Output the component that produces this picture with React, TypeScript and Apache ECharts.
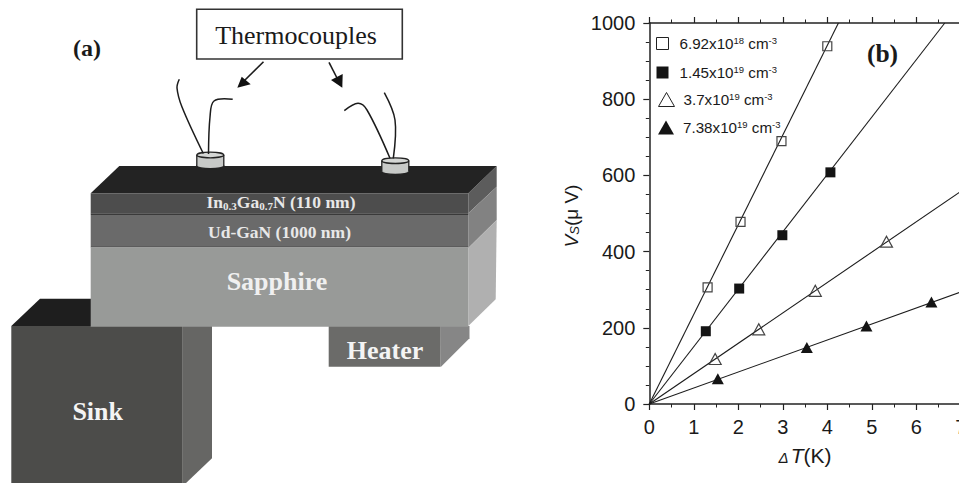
import React, { useEffect, useRef } from "react";
import * as echarts from "echarts";

type Pt = [number, number];

const openSquare: Pt[] = [[1.31, 306], [2.05, 478], [2.97, 690], [4.0, 939]];
const filledSquare: Pt[] = [[1.27, 191], [2.02, 303], [2.99, 443], [4.07, 608]];
const openTriangle: Pt[] = [[1.48, 118], [2.46, 196], [3.73, 297], [5.33, 426]];
const filledTriangle: Pt[] = [[1.54, 66], [3.54, 148], [4.88, 205], [6.34, 268]];

const fitOpenSquare: Pt[] = [[0, 0], [4.25, 1000]];
const fitFilledSquare: Pt[] = [[0, 0], [6.64, 1000]];
const fitOpenTriangle: Pt[] = [[0, 0], [7, 558]];
const fitFilledTriangle: Pt[] = [[0, 0], [7, 294]];

const seriesNames = ["6.92x10^18 cm^-3", "1.45x10^19 cm^-3", "3.7x10^19 cm^-3", "7.38x10^19 cm^-3"];
const legendRich: Record<string, string> = {
  [seriesNames[0]]: "{g|}{t|6.92x10}{u|18}{t| cm}{u|-3}",
  [seriesNames[1]]: "{g|}{t|1.45x10}{u|19}{t| cm}{u|-3}",
  [seriesNames[2]]: "{h|}{t|3.7x10}{u|19}{t| cm}{u|-3}",
  [seriesNames[3]]: "{h|}{t|7.38x10}{u|19}{t| cm}{u|-3}",
};

const INK = "#222";
const SERIF = "'Liberation Serif', serif";
const SANS = "'Liberation Sans', sans-serif";

const poly = (points: number[][], fill: string) => ({
  type: "polygon",
  shape: { points },
  style: { fill },
  silent: true,
});
const box = (x: number, y: number, width: number, height: number, fill: string) => ({
  type: "rect",
  shape: { x, y, width, height },
  style: { fill },
  silent: true,
});
const label = (text: string, x: number, y: number, fontSize: number, fill: string, weight = "bold") => ({
  type: "text",
  x,
  y,
  style: {
    text,
    fontSize,
    fontFamily: SERIF,
    fontWeight: weight,
    fill,
    align: "center",
    verticalAlign: "middle",
  },
  silent: true,
});
const wire = (points: number[][]) => ({
  type: "polyline",
  shape: { points, smooth: 0.35 },
  style: { stroke: "#1c1c1c", lineWidth: 1.5, fill: "none" },
  silent: true,
});
const arrow = (x1: number, y1: number, x2: number, y2: number, head: number[][]) => [
  {
    type: "line",
    shape: { x1, y1, x2, y2 },
    style: { stroke: "#1c1c1c", lineWidth: 1.6 },
    silent: true,
  },
  poly(head, "#111"),
];
const puck = (cx: number, cy: number) => [
  {
    type: "ellipse",
    shape: { cx, cy: cy + 11, rx: 13.5, ry: 2.6 },
    style: { fill: "#c8cac8", stroke: "#222", lineWidth: 1.3 },
    silent: true,
  },
  box(cx - 13.5, cy, 27, 11, "#c8cac8"),
  {
    type: "line",
    shape: { x1: cx - 13.5, y1: cy, x2: cx - 13.5, y2: cy + 11 },
    style: { stroke: "#222", lineWidth: 1.3 },
    silent: true,
  },
  {
    type: "line",
    shape: { x1: cx + 13.5, y1: cy, x2: cx + 13.5, y2: cy + 11 },
    style: { stroke: "#222", lineWidth: 1.3 },
    silent: true,
  },
  {
    type: "ellipse",
    shape: { cx, cy, rx: 13.5, ry: 2.8 },
    style: { fill: "#d4d6d4", stroke: "#222", lineWidth: 1.3 },
    silent: true,
  },
];

const diagram: any[] = [
  // sink
  poly([[11.3, 326], [40, 298.7], [91, 298.7], [91, 326]], "#1e1e1e"),
  poly([[182.7, 326], [212, 326], [212, 458.3], [185, 484], [182.7, 484]], "#666664"),
  box(11.3, 326, 171.4, 158, "#4c4c4a"),
  // heater
  poly([[440.7, 326], [469.5, 326], [469.5, 338.3], [441, 366.7]], "#868686"),
  box(328.7, 326, 112, 40.7, "#6b6b69"),
  // stack sides
  poly([[468.3, 193.3], [496.7, 166], [496.7, 186.7], [468.3, 213.3]], "#5c5c5c"),
  poly([[468.3, 213.3], [496.7, 186.7], [496.7, 220], [468.3, 248]], "#828282"),
  poly([[468.3, 248], [496.7, 220], [495.7, 299.3], [468.3, 326]], "#b0b0b0"),
  // stack top and fronts
  poly([[90.7, 193.3], [119.3, 166], [496.7, 166], [468.3, 193.3]], "#232323"),
  box(90.7, 193.3, 377.6, 20, "#4d4d4d"),
  box(90.7, 213.3, 377.6, 1.8, "#3a3a3a"),
  box(90.7, 215, 377.6, 31, "#6a6a6a"),
  box(90.7, 246, 377.6, 1.6, "#5c5c5c"),
  box(90.7, 247.3, 377.6, 79.4, "#989a98"),
  // thermocouples
  ...puck(210.3, 155),
  ...puck(395.3, 160.7),
  wire([[179.3, 79.3], [177, 88], [182, 107], [203.3, 153.5]]),
  wire([[208.5, 154], [210, 117], [214, 101], [232.7, 99.3]]),
  wire([[344.3, 110.7], [358, 103.3], [367, 110], [390, 158.3]]),
  wire([[384.3, 92.7], [395, 120], [393.3, 158.3]]),
  ...arrow(263.5, 61.7, 244, 81, [[237.3, 87.7], [241.7, 76.7], [250.7, 84.3]]),
  ...arrow(329, 62.3, 337, 78, [[342.3, 87.7], [331, 80], [342.7, 74]]),
  {
    type: "rect",
    shape: { x: 196.7, y: 9.3, width: 205.6, height: 49.7 },
    style: { fill: "#fff", stroke: "#333", lineWidth: 1.6 },
    silent: true,
  },
  label("Thermocouples", 296, 35, 26, "#1a1a1a", "normal"),
  label("(a)", 87, 47.5, 24, "#1a1a1a"),
  label("(b)", 882.5, 53, 25.5, "#1a1a1a"),
  {
    type: "text",
    x: 281,
    y: 202,
    style: {
      text: "{b|In}{s|0.3}{b|Ga}{s|0.7}{b|N (110 nm)}",
      fill: "#e8e8e8",
      align: "center",
      verticalAlign: "middle",
      rich: {
        b: { fontSize: 17.5, fontFamily: SERIF, fontWeight: "bold", fill: "#e8e8e8" },
        s: {
          fontSize: 11,
          fontFamily: SERIF,
          fontWeight: "bold",
          fill: "#e8e8e8",
          verticalAlign: "bottom",
          padding: [7, 0, 0, 0],
        },
      },
    },
    silent: true,
  },
  label("Ud-GaN (1000 nm)", 279.5, 232, 17.5, "#e8e8e8"),
  label("Sapphire", 277, 281.5, 26, "#f0f0f0"),
  label("Heater", 385, 350, 26, "#f4f4f4"),
  label("Sink", 97.7, 411.5, 26, "#f4f4f4"),
];

const axisLine = { show: true, onZero: false, lineStyle: { color: INK, width: 1.5 } };
const axisTick = { show: true, length: 6, lineStyle: { color: INK, width: 1.2 } };
const minorTick = { show: true, length: 3.5, lineStyle: { color: INK, width: 1 } };

const scatter = (name: string, data: Pt[], symbol: string, size: number | number[], filled: boolean) => ({
  name,
  type: "scatter",
  data,
  symbol,
  symbolSize: size,
  z: 5,
  itemStyle: filled
    ? { color: "#141414", borderColor: "#141414", borderWidth: 0, opacity: 1 }
    : { color: "rgba(255,255,255,0)", borderColor: "#444", borderWidth: 1.2, opacity: 1 },
});
const fit = (data: Pt[]) => ({
  type: "line",
  data,
  symbol: "none",
  z: 3,
  lineStyle: { color: "#1c1c1c", width: 1.1 },
});

const legendEntry = (name: string, left: number, top: number, icon: string, w: number, h: number, filled: boolean) => ({
  data: [{ name, icon }],
  left,
  top,
  itemWidth: w,
  itemHeight: h,
  itemGap: 0,
  padding: 0,
  inactiveColor: "#000",
  selectedMode: false,
  itemStyle: filled
    ? { color: "#141414", borderColor: "#141414", borderWidth: 0 }
    : { color: "#fff", borderColor: "#222", borderWidth: 1 },
  formatter: (n: string) => legendRich[n],
  textStyle: {
    rich: {
      g: { width: 6 },
      h: { width: 4 },
      t: { fontFamily: SANS, fontSize: 15.2, color: "#1a1a1a" },
      u: { fontFamily: SANS, fontSize: 9.5, color: "#1a1a1a", verticalAlign: "top", padding: [0, 0, 7, 0] },
    },
  },
});

export default function App() {
  const ref = useRef<HTMLDivElement>(null);
  useEffect(() => {
    document.body.style.margin = "0";
    const chart = echarts.init(ref.current!, undefined, { renderer: "svg" });
    chart.setOption({
      animation: false,
      backgroundColor: "#fff",
      grid: { left: 649.3, top: 23, width: 311.5, height: 381, containLabel: false, outerBoundsMode: "none" },
      legend: [
        legendEntry(seriesNames[0], 656, 35, "rect", 12, 12, false),
        legendEntry(seriesNames[1], 656.5, 64, "rect", 12, 12, true),
        legendEntry(seriesNames[2], 658, 91, "triangle", 16, 14, false),
        legendEntry(seriesNames[3], 658, 119, "triangle", 16, 14, true),
      ],
      xAxis: [
        {
          type: "value",
          min: 0,
          max: 7,
          interval: 1,
          position: "bottom",
          axisLine,
          axisTick,
          minorTick: { ...minorTick, splitNumber: 2 },
          splitLine: { show: false },
          axisLabel: {
            margin: 13,
            fontFamily: SANS,
            fontSize: 20,
            color: "#1a1a1a",
            showMaxLabel: true,
            hideOverlap: false,
          },
          name: "{d|Δ}{i|T}{n|(K)}",
          nameLocation: "middle",
          nameGap: 41,
          nameTextStyle: {
            rich: {
              d: { fontFamily: SANS, fontSize: 15, fontStyle: "italic", color: "#1a1a1a", padding: [4, 2, 0, 0] },
              i: { fontFamily: SANS, fontSize: 21, fontStyle: "italic", color: "#1a1a1a" },
              n: { fontFamily: SANS, fontSize: 21, color: "#1a1a1a" },
            },
          },
        },
        {
          type: "value",
          min: 0,
          max: 7,
          interval: 1,
          position: "top",
          axisLine,
          axisTick,
          minorTick: { ...minorTick, splitNumber: 2 },
          splitLine: { show: false },
          axisLabel: { show: false },
        },
      ],
      yAxis: {
        type: "value",
        min: 0,
        max: 1000,
        interval: 200,
        axisLine,
        axisTick,
        minorTick: { ...minorTick, splitNumber: 4 },
        splitLine: { show: false },
        axisLabel: {
          margin: 14,
          fontFamily: SANS,
          fontSize: 20,
          color: "#1a1a1a",
          formatter: (v: number) => String(v),
        },
        name: "{i|V}{s|S}{n|(μ V)}",
        nameLocation: "middle",
        nameGap: 68,
        nameTextStyle: {
          rich: {
            i: { fontFamily: SANS, fontSize: 19, fontStyle: "italic", color: "#1a1a1a" },
            s: { fontFamily: SANS, fontSize: 13, fontStyle: "italic", color: "#1a1a1a", padding: [6, 0, 0, 0] },
            n: { fontFamily: SANS, fontSize: 19, color: "#1a1a1a", padding: [0, 5, 0, 0] },
          },
        },
      },
      series: [
        fit(fitOpenSquare),
        fit(fitFilledSquare),
        fit(fitOpenTriangle),
        fit(fitFilledTriangle),
        scatter(seriesNames[0], openSquare, "rect", 9, false),
        scatter(seriesNames[1], filledSquare, "rect", 10, true),
        scatter(seriesNames[2], openTriangle, "triangle", [12, 11], false),
        scatter(seriesNames[3], filledTriangle, "triangle", [12, 11], true),
      ],
      graphic: { elements: diagram },
    });
    return () => chart.dispose();
  }, []);
  return <div ref={ref} style={{ width: 959, height: 483 }} />;
}
